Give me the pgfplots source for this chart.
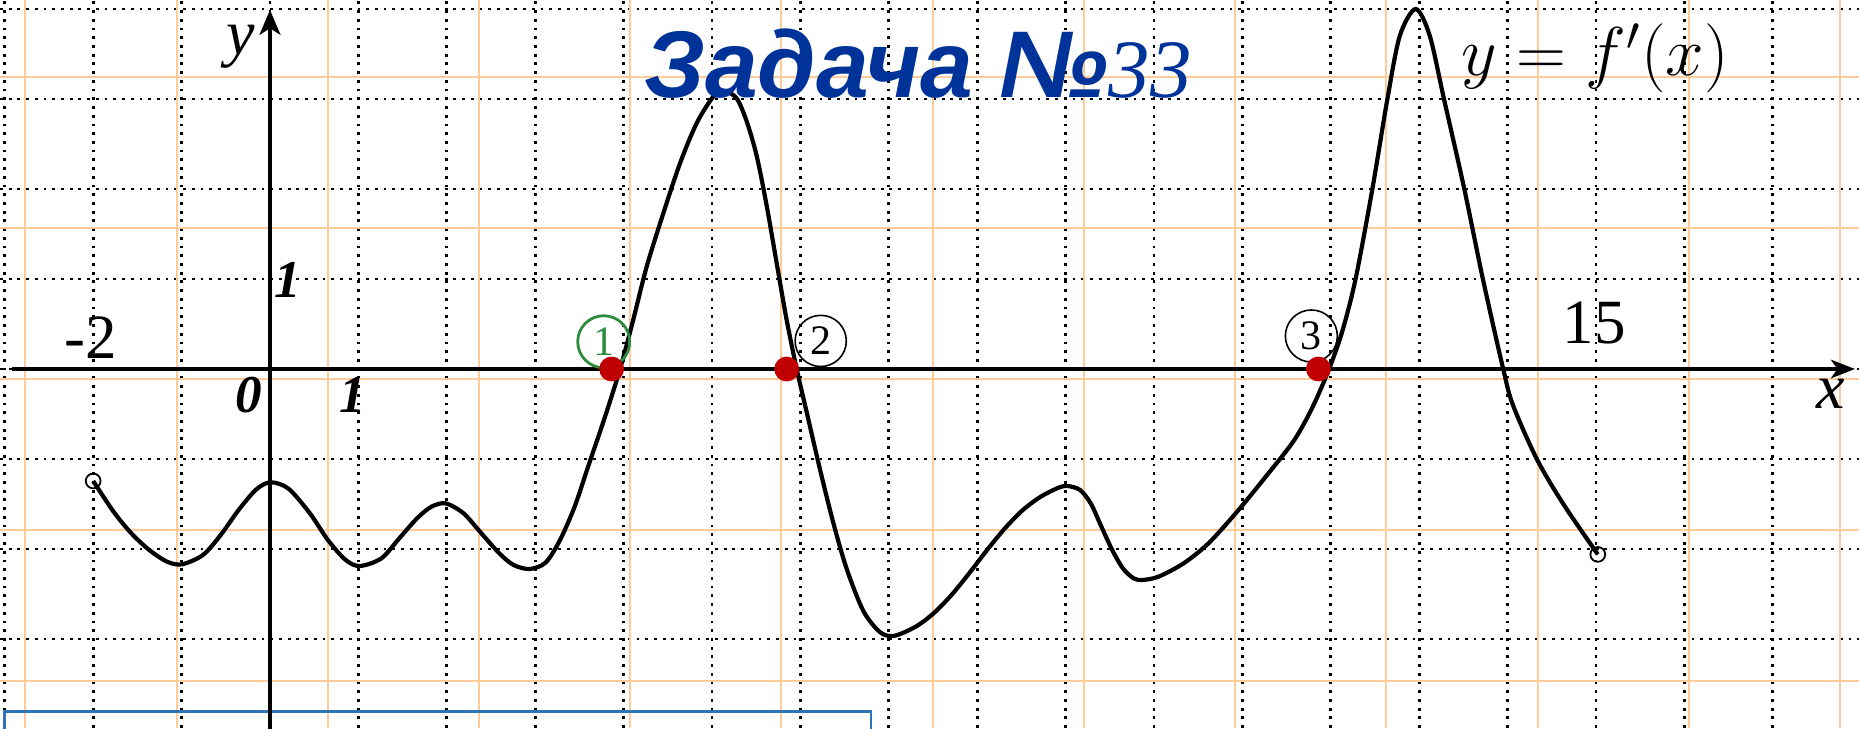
\documentclass[border=0pt]{standalone}
\usepackage{fontspec}
\setmainfont{Liberation Serif}
\newfontfamily\arialfont{Liberation Sans}
\usepackage{graphicx}
\usepackage{pgfplots}
\pgfplotsset{compat=1.18}
\usetikzlibrary{arrows.meta}

\definecolor{orangegrid}{RGB}{255,204,153}
\definecolor{titleblue}{RGB}{0,51,153}
\definecolor{dotred}{RGB}{192,0,0}
\definecolor{circgreen}{RGB}{46,139,62}
\definecolor{rectblue}{RGB}{46,117,182}

\begin{document}
\begin{tikzpicture}
\begin{axis}[
  scale only axis, width=464.75pt, height=182pt,
  xmin=-3.054, xmax=17.975, ymin=-3.989, ymax=4.1,
  axis line style={draw=none},
  xtick={-3,...,17}, ytick={-4,...,4},
  xticklabels={}, yticklabels={},
  major tick length=0pt,
  grid=major,
  major grid style={black, line width=0.7pt, dash pattern=on 0.7pt off 1.48pt},
  extra x ticks={-2.766,-1.055,0.655,2.365,4.076,5.786,7.497,9.207,10.917,12.628,14.338,16.049,17.759},
  extra y ticks={3.241,1.563,-0.115,-1.793,-3.471},
  extra x tick labels={}, extra y tick labels={},
  extra tick style={grid=major, major grid style={orangegrid, line width=0.5pt, solid}},
]
% blue frame at bottom
\draw[rectblue, line width=0.67pt] (axis cs:-3.0,-4.2) -- (axis cs:-3.0,-3.808) -- (axis cs:6.80,-3.808) -- (axis cs:6.80,-4.2);

% axes
\draw[line width=0.95pt, -{Stealth[length=6pt, width=4.6pt, inset=1.6pt]}] (axis cs:-2.92,0) -- (axis cs:17.93,0);
\draw[line width=0.95pt, -{Stealth[length=6.2pt, width=5.2pt, inset=1.6pt]}] (axis cs:0,-4.2) -- (axis cs:0,3.99);

% the curve y = f'(x)
\addplot[black, line width=1.05pt, smooth, tension=0.5] coordinates {
(-2.0,-1.244) (-1.77,-1.585) (-1.568,-1.826) (-1.366,-2.011) (-1.164,-2.141) (-0.996,-2.17)
(-0.759,-2.067) (-0.557,-1.844) (-0.355,-1.567) (-0.154,-1.337) (0.008,-1.259) (0.21,-1.33)
(0.452,-1.604) (0.655,-1.9) (0.856,-2.122) (1.018,-2.189) (1.26,-2.104) (1.463,-1.881)
(1.664,-1.659) (1.826,-1.53) (1.988,-1.493) (2.19,-1.604) (2.391,-1.826) (2.594,-2.048)
(2.756,-2.178) (2.937,-2.222) (3.119,-2.15) (3.281,-1.9) (3.45,-1.52) (3.60,-1.08)
(3.78,-0.56) (3.96,0) (4.11,0.55) (4.261,1.137) (4.45,1.732) (4.638,2.285) (4.827,2.732)
(5.016,3.029) (5.13,3.093) (5.278,3.008) (5.392,2.753) (5.505,2.37) (5.618,1.818)
(5.731,1.18) (5.845,0.542) (5.958,0) (6.071,-0.479) (6.222,-1.117) (6.373,-1.712)
(6.524,-2.222) (6.713,-2.69) (6.901,-2.924) (7.06,-2.965) (7.304,-2.863) (7.506,-2.715)
(7.709,-2.511) (7.909,-2.27) (8.112,-2.011) (8.314,-1.77) (8.516,-1.567) (8.718,-1.419)
(8.92,-1.319) (9.022,-1.3) (9.163,-1.344) (9.284,-1.493) (9.405,-1.752) (9.527,-2.011)
(9.648,-2.215) (9.769,-2.326) (9.870,-2.344) (10.052,-2.307) (10.335,-2.159) (10.616,-1.937)
(10.94,-1.585) (11.264,-1.196) (11.587,-0.789) (11.80,-0.41) (11.98,0) (12.13,0.42)
(12.28,1.0) (12.47,2.0) (12.64,3.0) (12.78,3.7) (12.96,4.0) (13.12,3.7) (13.28,3.0)
(13.51,2.0) (13.72,1.0) (13.95,0) (14.06,-0.4) (14.33,-1.0) (14.63,-1.5) (15.02,-2.06)
};

% open end points
\addplot[only marks, mark=o, mark size=1.85pt, mark options={fill=white, line width=0.45pt, black}] coordinates {(-2.0,-1.244) (15.02,-2.06)};

% red points on the x axis
\addplot[only marks, mark=*, mark size=2.9pt, color=dotred, mark options={draw=dotred, fill=dotred}] coordinates {(3.865,0) (5.845,0) (11.86,0)};

% circled numbers
\node[circle, draw=circgreen, line width=0.7pt, minimum size=13pt, inner sep=0pt, text=circgreen, font=\fontsize{10.5}{11}\selectfont] at (axis cs:3.775,0.303) {1};
\node[circle, draw=black, line width=0.4pt, minimum size=12.8pt, inner sep=0pt, font=\fontsize{10.5}{11}\selectfont] at (axis cs:6.23,0.312) {2};
\node[circle, draw=black, line width=0.4pt, minimum size=13pt, inner sep=0pt, font=\fontsize{10.5}{11}\selectfont] at (axis cs:11.78,0.367) {3};

% title
\node[anchor=base west, inner sep=0pt, text=titleblue] at (axis cs:4.225,3.02) {\fontsize{23.7}{24}\selectfont\arialfont\bfseries\itshape Задача №\fontsize{20.75}{21}\selectfont\rmfamily\mdseries\itshape 33};

% function label
\node[anchor=base, inner sep=0pt] at (axis cs:14.99,3.26) {\fontsize{17}{18}\selectfont$y=f'(x)$};

% axis names
\node[anchor=base, inner sep=0pt] at (axis cs:-0.33,3.49) {\fontsize{16}{16}\selectfont\itshape y};
\node[anchor=base, inner sep=0pt] at (axis cs:17.65,-0.444) {\fontsize{16}{16}\selectfont\itshape x};

% numbers
\node[anchor=base, inner sep=0pt] at (axis cs:-2.025,0.122) {\fontsize{15.75}{16}\selectfont -2};
\node[anchor=base, inner sep=0pt] at (axis cs:14.98,0.286) {\fontsize{15.75}{16}\selectfont 15};
\node[anchor=base, inner sep=0pt] at (axis cs:-0.24,-0.478) {\fontsize{13.3}{14}\selectfont\bfseries\itshape 0};
\node[anchor=base, inner sep=0pt] at (axis cs:0.94,-0.478) {\fontsize{13.3}{14}\selectfont\bfseries\itshape 1};
\node[anchor=base, inner sep=0pt] at (axis cs:0.20,0.80) {\fontsize{13.3}{14}\selectfont\bfseries\itshape 1};
\end{axis}
\pgfresetboundingbox
\path[use as bounding box] (current axis.south west) rectangle (current axis.north east);
\end{tikzpicture}
\end{document}
